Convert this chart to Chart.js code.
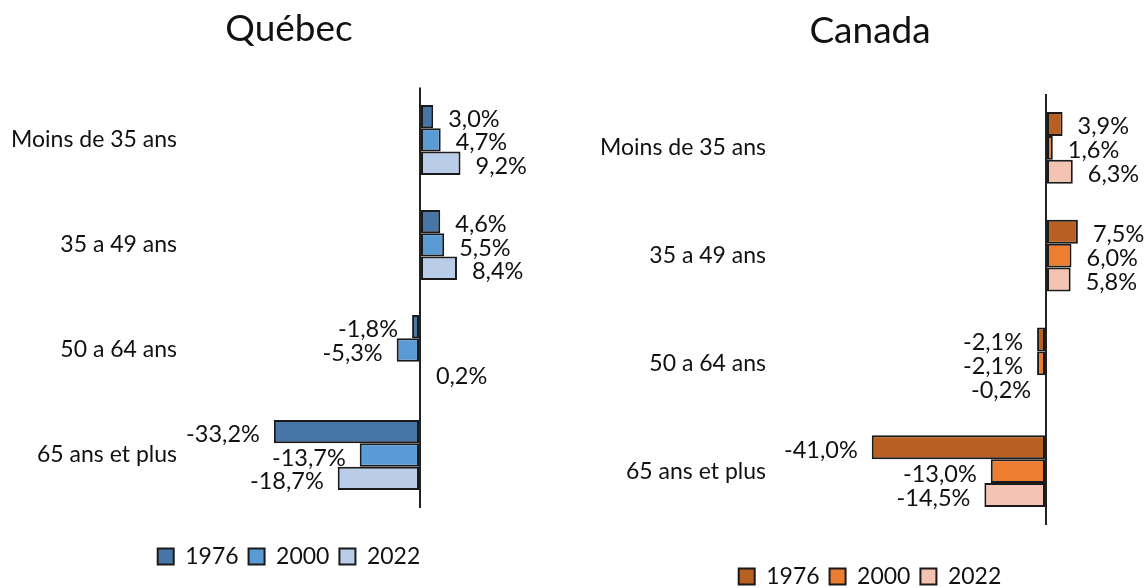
<!DOCTYPE html>
<html lang="fr">
<head>
  <meta charset="UTF-8" />
  <title>Québec et Canada par groupe d'âge</title>
  <script src="https://cdn.jsdelivr.net/npm/chart.js"></script>
</head>
<style>
    body {
      margin: 0;
      width: 1148px;
      height: 588px;
      overflow: hidden;
      background: #fff;
      position: relative;
    }
    #boxQc {
      position: absolute;
      left: 0;
      top: 0;
      width: 578px;
      height: 588px;
    }
    #boxCa {
      position: absolute;
      left: 592px;
      top: 0;
      width: 556px;
      height: 600px;
    }
  </style>
<body>
  <div id="boxQc"><canvas id="quebec"></canvas></div>
  <div id="boxCa"><canvas id="canada"></canvas></div>
  <script>
    // données
    const categories = ['Moins de 35 ans', '35 a 49 ans', '50 a 64 ans', '65 ans et plus'];
    const annees = ['1976', '2000', '2022'];

    const quebec1976 = [3.0, 4.6, -1.8, -33.2];
    const quebec2000 = [4.7, 5.5, -5.3, -13.7];
    const quebec2022 = [9.2, 8.4, 0.2, -18.7];

    const canada1976 = [3.9, 7.5, -2.1, -41.0];
    const canada2000 = [1.6, 6.0, -2.1, -13.0];
    const canada2022 = [6.3, 5.8, -0.2, -14.5];

    const couleursQc = ['#4675a6', '#5b9bd5', '#b9cde9'];
    const couleursCa = ['#b85f23', '#ed7d31', '#f4c3b2'];

    Chart.defaults.font.family = 'Lato, "Noto Sans", sans-serif';
    Chart.defaults.color = '#111';

    // étiquettes de valeur à côté des barres
    const etiquettes = {
      id: 'etiquettes',
      afterDatasetsDraw(chart) {
        const ctx = chart.ctx;
        ctx.save();
        ctx.font = '23.5px Lato, "Noto Sans", sans-serif';
        ctx.fillStyle = '#111';
        ctx.textBaseline = 'middle';
        chart.data.datasets.forEach((ds, i) => {
          chart.getDatasetMeta(i).data.forEach((bar, j) => {
            const v = ds.data[j];
            const txt = (v < 0 ? '-' : '') + Math.abs(v).toFixed(1).replace('.', ',') + '%';
            if (v >= 0) {
              ctx.textAlign = 'left';
              ctx.fillText(txt, bar.x + 15, bar.y + 3);
            } else {
              ctx.textAlign = 'right';
              ctx.fillText(txt, bar.x - 14, bar.y + 3);
            }
          });
        });
        ctx.restore();
      }
    };

    function creerGraphique(id, titre, series, couleurs, opt) {
      const ctx = document.getElementById(id).getContext('2d');
      return new Chart(ctx, {
        type: 'bar',
        data: {
          labels: categories,
          datasets: series.map((s, i) => ({
            label: annees[i],
            data: s,
            backgroundColor: couleurs[i],
            borderColor: '#1a1a1a',
            borderWidth: 2,
            borderSkipped: false,
            categoryPercentage: 0.667,
            barPercentage: 1.0
          }))
        },
        options: {
          indexAxis: 'y',
          responsive: true,
          maintainAspectRatio: false,
          animation: false,
          devicePixelRatio: 1,
          layout: {
            padding: { top: 0, left: 0, right: 0, bottom: opt.padBottom }
          },
          plugins: {
            title: {
              display: true,
              text: titre,
              font: { size: 37, weight: 'normal' },
              color: '#111',
              padding: { top: opt.titreTop, bottom: opt.titreBottom }
            },
            legend: {
              position: 'bottom',
              labels: {
                boxWidth: 16,
                boxHeight: 16,
                padding: 10,
                font: { size: 23 },
                color: '#111'
              }
            },
            tooltip: { enabled: false }
          },
          scales: {
            x: {
              min: opt.min,
              max: opt.max,
              ticks: { display: false, stepSize: 1 },
              border: { display: false },
              grid: {
                drawTicks: false,
                lineWidth: 2,
                color: c => c.tick && c.tick.value === 0 ? '#222' : 'rgba(0,0,0,0)'
              },
              afterFit: s => { s.height = opt.basX; }
            },
            y: {
              ticks: { padding: 8, font: { size: 23 }, color: '#111' },
              border: { display: false },
              grid: { display: false, drawTicks: false },
              afterFit: s => { s.width = opt.largeurY; }
            }
          }
        },
        plugins: [etiquettes]
      });
    }

    creerGraphique('quebec', 'Québec', [quebec1976, quebec2000, quebec2022], couleursQc, {
      min: -53.4, max: 35.9, padBottom: 10,
      titreTop: 7, titreBottom: 36, basX: 27.5, largeurY: 185
    });

    creerGraphique('canada', 'Canada', [canada1976, canada2000, canada2022], couleursCa, {
      min: -64, max: 24, padBottom: 2,
      titreTop: 9, titreBottom: 40.6, basX: 30, largeurY: 182
    });
  </script>
</body>
</html>
